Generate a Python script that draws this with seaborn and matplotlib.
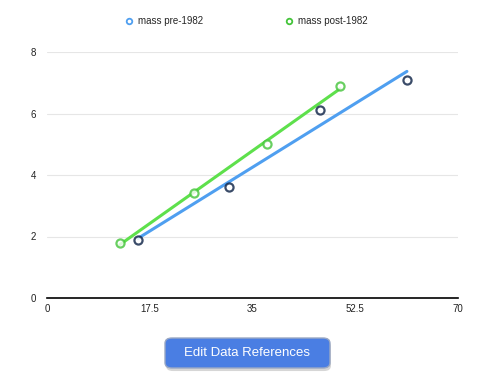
import matplotlib
matplotlib.use("Agg")
import matplotlib.pyplot as plt
from matplotlib.lines import Line2D
from matplotlib.patches import FancyBboxPatch
import seaborn as sns
import pandas as pd

# Data
pre_x = [15.5, 31.0, 46.5, 61.3]
pre_y = [1.9, 3.6, 6.1, 7.1]
post_x = [12.4, 25.0, 37.5, 49.9]
post_y = [1.8, 3.4, 5.0, 6.9]
series_labels = ["mass pre-1982", "mass post-1982"]
x_ticks = [0, 17.5, 35, 52.5, 70]
x_tick_labels = ["0", "17.5", "35", "52.5", "70"]
y_ticks = [0, 2, 4, 6, 8]
button_text = "Edit Data References"

sns.set_theme(style="white")
plt.rcParams['font.family'] = ['Liberation Sans', 'DejaVu Sans']

pre_df = pd.DataFrame({"x": pre_x, "y": pre_y})
post_df = pd.DataFrame({"x": post_x, "y": post_y})

blue = "#4f9ff0"
green = "#5ee04c"
navy = "#0a1f44"
green_dark = "#44c43a"

fig = plt.figure(figsize=(4.94, 3.80), dpi=100)
ax = fig.add_axes([47/494, 82/380, 411/494, 246/380])

sns.regplot(data=pre_df, x="x", y="y", ax=ax, ci=None, truncate=True,
            scatter_kws=dict(s=34, facecolors="white", edgecolors=navy, linewidths=1.6, zorder=4),
            line_kws=dict(color=blue, lw=2.2, zorder=3), color=blue)
sns.regplot(data=post_df, x="x", y="y", ax=ax, ci=None, truncate=True,
            scatter_kws=dict(s=34, facecolors="white", edgecolors=green_dark, linewidths=1.6, zorder=4),
            line_kws=dict(color=green, lw=2.2, zorder=3), color=green)

ax.set_xlim(0, 70)
ax.set_ylim(0, 8)
ax.set_xticks(x_ticks)
ax.set_xticklabels(x_tick_labels)
ax.set_yticks(y_ticks)
ax.set_xlabel("")
ax.set_ylabel("")
ax.grid(axis="y", color="#e6e6e6", lw=0.8)
ax.grid(axis="x", visible=False)
ax.set_axisbelow(True)
for s in ["top", "right", "left"]:
    ax.spines[s].set_visible(False)
ax.spines["bottom"].set_color("black")
ax.spines["bottom"].set_linewidth(1.2)
ax.tick_params(axis="both", length=0, labelsize=7, colors="#222222")
ax.tick_params(axis="y", pad=8)
ax.tick_params(axis="x", pad=4)

handles = [
    Line2D([], [], ls="none", marker="o", markersize=4, markerfacecolor="white",
           markeredgecolor=blue, markeredgewidth=1.3),
    Line2D([], [], ls="none", marker="o", markersize=4, markerfacecolor="white",
           markeredgecolor=green_dark, markeredgewidth=1.3),
]
fig.legend(handles, series_labels, loc="center", bbox_to_anchor=(247/494, 1 - 21/380),
           ncol=2, frameon=False, fontsize=7, handlelength=0.6, handletextpad=0.6,
           columnspacing=8.6)

# Button
bx0, by0, bw, bh = 165/494, 1 - 368/380, 165/494, 30/380
shadow = FancyBboxPatch((bx0 + 0.002, by0 - 0.008), bw, bh,
                        boxstyle="round,pad=0,rounding_size=0.014",
                        transform=fig.transFigure, facecolor="#bbbbbb", edgecolor="none",
                        alpha=0.6, zorder=1)
fig.patches.append(shadow)
btn = FancyBboxPatch((bx0, by0), bw, bh, boxstyle="round,pad=0,rounding_size=0.014",
                     transform=fig.transFigure, facecolor="#4a7ee3", edgecolor="#9aa8c4",
                     lw=1.0, zorder=2)
fig.patches.append(btn)
fig.text(bx0 + bw/2, by0 + bh/2, button_text, ha="center", va="center",
         color="white", fontsize=9.5, zorder=3)

fig.savefig("out.png", dpi=100)
